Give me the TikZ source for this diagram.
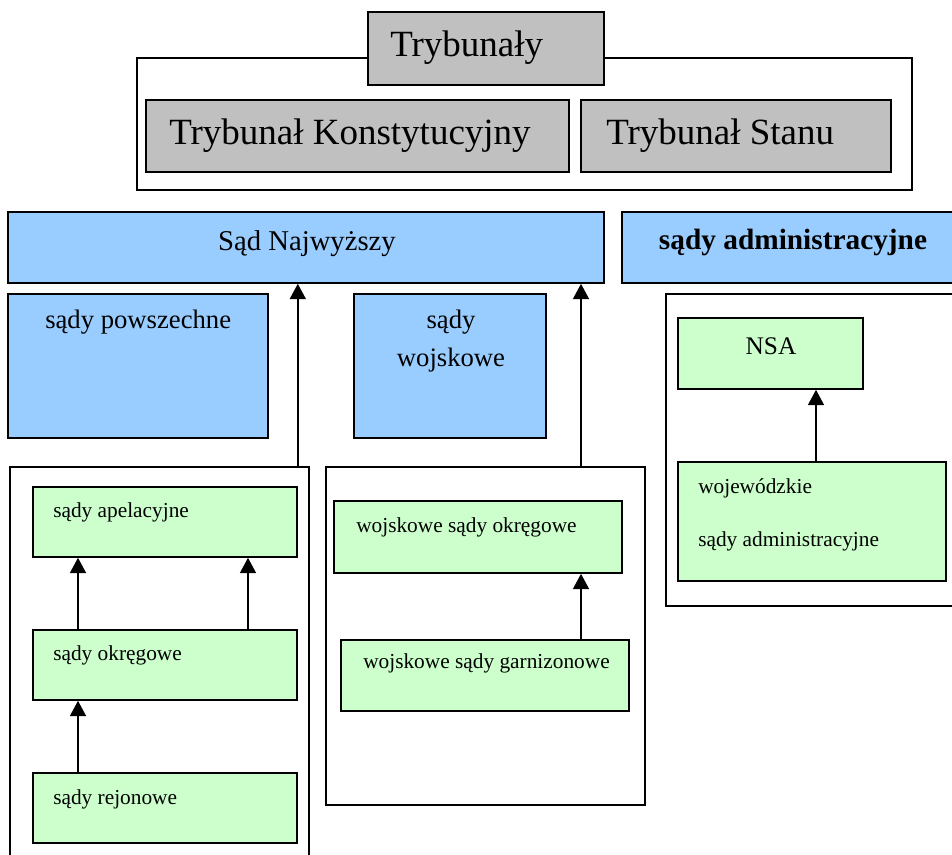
\documentclass[tikz,border=0pt]{standalone}
\usepackage{fontspec}
\setmainfont{Liberation Serif}
\usetikzlibrary{arrows.meta, fit}
\usepackage{xcolor}
\definecolor{tgrey}{RGB}{192,192,192}
\definecolor{sblue}{RGB}{153,204,255}
\definecolor{sgreen}{RGB}{204,255,204}

\begin{document}
\begin{tikzpicture}[x=0.75pt, y=-0.75pt,
  frame/.style={draw, line width=1.5pt, inner sep=0pt},
  greybox/.style={draw, line width=1.2pt, fill=tgrey, inner sep=0pt},
  bluebox/.style={draw, line width=1.2pt, fill=sblue, inner sep=0pt},
  greenbox/.style={draw, line width=1.2pt, fill=sgreen, inner sep=0pt},
  bigtxt/.style={inner sep=0pt, anchor=base west, font=\fontsize{27.75}{33}\selectfont},
  midtxt/.style={inner sep=0pt, anchor=base, font=\fontsize{21.5}{25}\selectfont},
  smalltxt/.style={inner sep=0pt, anchor=base west, font=\fontsize{16}{19}\selectfont},
  arr/.style={line width=1.3pt, -{Triangle[width=12pt, length=11.5pt]}},
]
\clip (0,0) rectangle (952,855);

% trybunaly
\node[frame, fit={(137,58) (912,190)}] (trframe) {};
\node[greybox, fit={(368,12) (604,85)}] (tryb) {};
\node[greybox, fit={(146,100) (569,172)}] (tk) {};
\node[greybox, fit={(581,100) (891,172)}] (ts) {};
\node[bigtxt] (trybtxt) at (390,57) {Trybunały};
\node[bigtxt] (tktxt) at (169,145) {Trybunał Konstytucyjny};
\node[bigtxt] (tstxt) at (606,145) {Trybunał Stanu};

% gorny rzad
\node[bluebox, fit={(8,212) (604,283)}] (sn) {};
\node[bluebox, fit={(622,212) (960,283)}] (sa) {};
\node[midtxt] (sntxt) at (307,251) {Sąd Najwyższy};
\node[midtxt, font=\fontsize{22}{26}\selectfont\bfseries] (satxt) at (793,250) {sądy administracyjne};

\node[bluebox, fit={(8,294) (268,438)}] (spow) {};
\node[bluebox, fit={(354,294) (546,438)}] (swoj) {};
\node[midtxt, anchor=base west, font=\fontsize{20}{24}\selectfont] (spowtxt) at (45,329) {sądy powszechne};
\node[midtxt, font=\fontsize{20}{24}\selectfont] (swojtxtA) at (451,329) {sądy};
\node[midtxt, font=\fontsize{20}{24}\selectfont] (swojtxtB) at (451,366) {wojskowe};

% sady powszechne
\node[frame, fit={(10,467) (309,870)}] (lframe) {};
\node[greenbox, fit={(33,487) (297,557)}] (apel) {};
\node[greenbox, fit={(33,630) (297,700)}] (okr) {};
\node[greenbox, fit={(33,773) (297,843)}] (rej) {};
\node[smalltxt] (apeltxt) at (53,517) {sądy apelacyjne};
\node[smalltxt] (okrtxt) at (53,660) {sądy okręgowe};
\node[smalltxt] (rejtxt) at (53,804) {sądy rejonowe};

% sady wojskowe
\node[frame, fit={(326,467) (645,805)}] (mframe) {};
\node[greenbox, fit={(334,501) (622,573)}] (wokr) {};
\node[greenbox, fit={(341,640) (629,711)}] (wgarn) {};
\node[smalltxt] (wokrtxt) at (356,532) {wojskowe sądy okręgowe};
\node[smalltxt] (wgarntxt) at (363,668) {wojskowe sądy garnizonowe};

% sady administracyjne
\node[frame, fit={(666,294) (960,606)}] (rframe) {};
\node[greenbox, fit={(678,318) (863,389)}] (nsa) {};
\node[greenbox, fit={(678,462) (946,581)}] (wsa) {};
\node[midtxt, font=\fontsize{19}{23}\selectfont] (nsatxt) at (771,354) {NSA};
\node[smalltxt] (wsatxtA) at (698,493) {wojewódzkie};
\node[smalltxt] (wsatxtB) at (698,546) {sądy administracyjne};

% strzalki
\coordinate (la) at (78,0);
\coordinate (lb) at (248,0);
\coordinate (mx) at (581,0);
\coordinate (rx) at (816,0);
\draw[arr] (apel.east |- lframe.north) -- (apel.east |- sn.south);
\draw[arr] (mx |- mframe.north) -- (mx |- sn.south);
\draw[arr] (la |- okr.north) -- (la |- apel.south);
\draw[arr] (lb |- okr.north) -- (lb |- apel.south);
\draw[arr] (la |- rej.north) -- (la |- okr.south);
\draw[arr] (mx |- wgarn.north) -- (mx |- wokr.south);
\draw[arr] (rx |- wsa.north) -- (rx |- nsa.south);
\end{tikzpicture}
\end{document}
